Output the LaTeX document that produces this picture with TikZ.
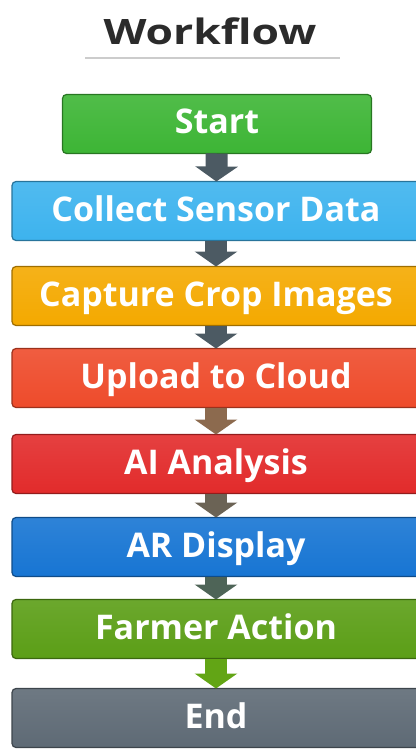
\documentclass[tikz,border=0pt]{standalone}
\usepackage{fontspec}
\setmainfont{Open Sans}
\usepackage{graphicx}
\usepackage{tikz}
\usetikzlibrary{arrows.meta, positioning}

\definecolor{startgreen}{HTML}{3DB535}
\definecolor{sensorblue}{HTML}{3DB3EE}
\definecolor{captureorange}{HTML}{F4A900}
\definecolor{uploadred}{HTML}{EE4B2B}
\definecolor{aired}{HTML}{E22B2B}
\definecolor{arblue}{HTML}{1775D3}
\definecolor{farmergreen}{HTML}{5B9E16}
\definecolor{endgray}{HTML}{5E6A75}
\definecolor{arrowgray}{HTML}{4C5A63}
\definecolor{arrowbrown}{HTML}{8C6A4E}
\definecolor{arrowtaupe}{HTML}{6B6355}
\definecolor{arrowgreen}{HTML}{62A515}
\definecolor{titlegray}{HTML}{2B2B2B}

\tikzset{
  stepbox/.style={rounded corners=4pt, draw=#1!65!black, line width=1.2pt,
    top color=#1!90!white, bottom color=#1, minimum height=59pt,
    inner sep=0pt, outer sep=0pt, text=white,
    text height=22pt, text depth=2pt,
    font=\fontsize{34}{40}\selectfont\bfseries},
  widebox/.style={stepbox=#1, minimum width=408pt},
  flow/.style={draw=#1, line width=22pt,
    -{Triangle[width=42pt, length=15pt]}}
}

\begin{document}
\begin{tikzpicture}[x=1pt, y=-1pt]
  \useasboundingbox (0,0) rectangle (415,749);

  % Title and rule
  \node[text=titlegray, inner sep=0pt, text height=25pt, text depth=0pt,
    font=\fontsize{35}{42}\selectfont\bfseries] (title) at (210,32.5)
    {\scalebox{1.27}[1]{Workflow}};
  \draw[black!20, line width=1.5pt] (85,58) -- (340,58);

  % Steps
  \node[stepbox=startgreen, minimum width=309pt] (start) at (217,124) {Start};
  \node[widebox=sensorblue] (collect) at (216,211) {Collect Sensor Data};
  \node[widebox=captureorange] (capture) at (216,296) {Capture Crop Images};
  \node[widebox=uploadred] (upload) at (216,378) {Upload to Cloud};
  \node[widebox=aired] (analysis) at (216,464) {AI Analysis};
  \node[widebox=arblue] (display) at (216,547) {AR Display};
  \node[widebox=farmergreen] (action) at (216,629) {Farmer Action};
  \node[widebox=endgray] (end) at (216,718) {End};

  % Arrows
  \draw[flow=arrowgray] (start) -- (collect);
  \draw[flow=arrowgray] (collect) -- (capture);
  \draw[flow=arrowgray] (capture) -- (upload);
  \draw[flow=arrowbrown] (upload) -- (analysis);
  \draw[flow=arrowtaupe] (analysis) -- (display);
  \draw[flow=arrowgray!85!farmergreen] (display) -- (action);
  \draw[flow=arrowgreen] (action) -- (end);
\end{tikzpicture}
\end{document}
